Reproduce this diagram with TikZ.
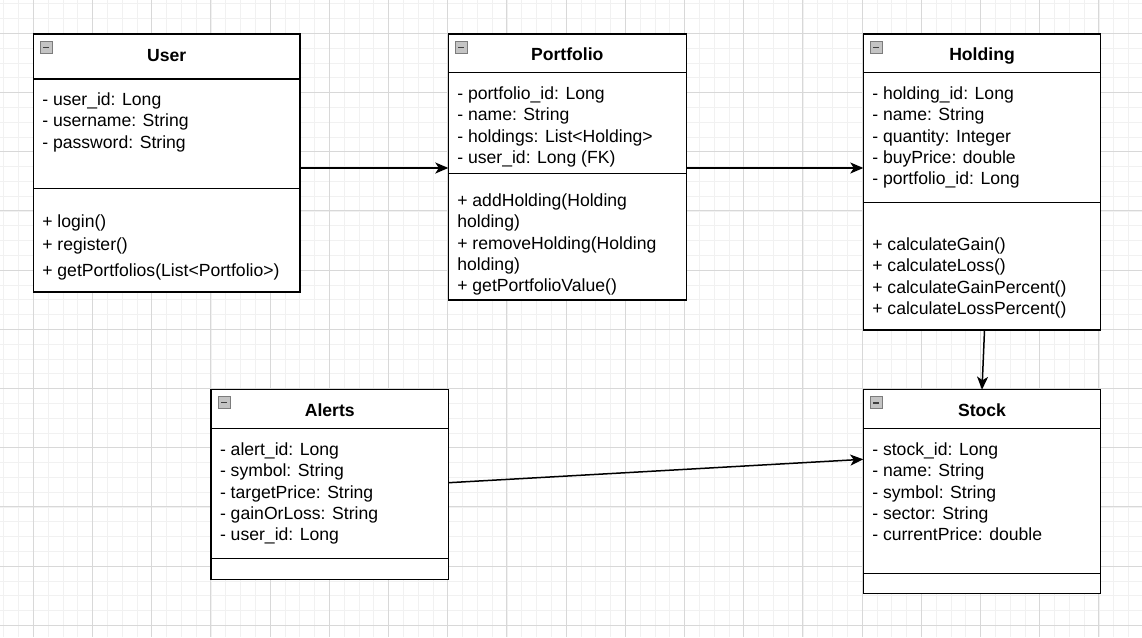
\documentclass[tikz,border=0pt]{standalone}
\usepackage{fontspec}
\setmainfont{Liberation Sans}
\usetikzlibrary{arrows.meta,calc}
\definecolor{gridminor}{HTML}{F1F1F1}
\definecolor{gridmajor}{HTML}{D8D8D8}
\definecolor{iconfill}{HTML}{C4C4C4}
\definecolor{iconline}{HTML}{7C7C7C}
\tikzset{
  cls/.style={draw=black, line width=1.5pt, fill=white, inner sep=0pt, outer sep=0pt, anchor=north west},
  txt/.style={inner sep=0pt, outer sep=0pt, anchor=base west, font=\fontsize{17.6}{21}\selectfont},
  ttl/.style={inner sep=0pt, outer sep=0pt, anchor=base, font=\fontsize{17.6}{21}\selectfont\bfseries},
  divider/.style={line width=1.5pt},
  arr/.style={line width=1.5pt, -{Stealth[length=13pt,width=11pt,inset=3.5pt]}},
  icon/.style={draw=iconline, fill=iconfill, line width=0.9pt, minimum width=12pt, minimum height=12pt, inner sep=0pt, outer sep=0pt, anchor=north west,
    path picture={\draw[line width=1.5pt, black!75] ([xshift=3pt]path picture bounding box.west) -- ([xshift=-3pt]path picture bounding box.east);}},
}
\begin{document}
\begin{tikzpicture}[x=1pt,y=-1pt]
\useasboundingbox (0,0) rectangle (1142,637);
\fill[white] (0,0) rectangle (1142,637);
% grid
\foreach \i in {0,...,77} {
  \draw[gridminor, line width=0.8pt] (3.7+14.8*\i,0) -- (3.7+14.8*\i,637);
}
\foreach \i in {0,...,43} {
  \draw[gridminor, line width=0.8pt] (0,3.7+14.8*\i) -- (1142,3.7+14.8*\i);
}
\foreach \i in {0,...,18} {
  \draw[gridmajor, line width=0.9pt] (33.3+59.2*\i,0) -- (33.3+59.2*\i,637);
}
\foreach \i in {0,...,10} {
  \draw[gridmajor, line width=0.9pt] (0,33.3+59.2*\i) -- (1142,33.3+59.2*\i);
}

% ---------- User ----------
\node[cls, minimum width=266.7pt, minimum height=258pt] (user) at (33.3,34) {};
\draw[divider] (user.west |- 0,79) -- (user.east |- 0,79);
\draw[divider] (user.west |- 0,188.3) -- (user.east |- 0,188.3);
\node[icon] (user-ic) at (40.3,41.5) {};
\node[ttl] (user-t) at (166.7,61.3) {User};
\foreach \t [count=\i from 0] in {- user\_id: Long, - username: String, - password: String} {
  \node[txt] (user-a\i) at (42.3,105.5+21.3*\i) {\t};
}
\node[txt] (user-m0) at (42.3,227.5) {+ login()};
\node[txt] (user-m1) at (42.3,250.8) {+ register()};
\node[txt] (user-m2) at (42.3,276.8) {+ getPortfolios(List<Portfolio>)};

% ---------- Portfolio ----------
\node[cls, minimum width=238pt, minimum height=266pt] (portfolio) at (448.3,34) {};
\draw[divider] (portfolio.west |- 0,72.7) -- (portfolio.east |- 0,72.7);
\draw[divider] (portfolio.west |- 0,173.3) -- (portfolio.east |- 0,173.3);
\node[icon] (portfolio-ic) at (455.3,41.3) {};
\node[ttl] (portfolio-t) at (567.3,60.5) {Portfolio};
\foreach \t [count=\i from 0] in {- portfolio\_id: Long, - name: String, - holdings: List<Holding>, - user\_id: Long (FK)} {
  \node[txt] (portfolio-a\i) at (457.3,99.5+21.3*\i) {\t};
}
\node[txt] (portfolio-m0) at (457.3,206.5) {+ addHolding(Holding};
\node[txt] (portfolio-m1) at (457.3,227.8) {holding)};
\node[txt] (portfolio-m2) at (457.3,249.1) {+ removeHolding(Holding};
\node[txt] (portfolio-m3) at (457.3,270.4) {holding)};
\node[txt] (portfolio-m4) at (457.3,291.7) {+ getPortfolioValue()};

% ---------- Holding ----------
\node[cls, minimum width=237.4pt, minimum height=296pt] (holding) at (863.3,34) {};
\draw[divider] (holding.west |- 0,72.7) -- (holding.east |- 0,72.7);
\draw[divider] (holding.west |- 0,202.7) -- (holding.east |- 0,202.7);
\node[icon] (holding-ic) at (870.3,41.3) {};
\node[ttl] (holding-t) at (982,60.5) {Holding};
\foreach \t [count=\i from 0] in {- holding\_id: Long, - name: String, - quantity: Integer, - buyPrice: double, - portfolio\_id: Long} {
  \node[txt] (holding-a\i) at (872.3,99.5+21.3*\i) {\t};
}
\foreach \t [count=\i from 0] in {+ calculateGain(), + calculateLoss(), + calculateGainPercent(), + calculateLossPercent()} {
  \node[txt] (holding-m\i) at (872.3,250.5+21.3*\i) {\t};
}

% ---------- Alerts ----------
\node[cls, minimum width=237.7pt, minimum height=189.6pt] (alerts) at (211,389.7) {};
\draw[divider] (alerts.west |- 0,428.3) -- (alerts.east |- 0,428.3);
\draw[divider] (alerts.west |- 0,558.7) -- (alerts.east |- 0,558.7);
\node[icon] (alerts-ic) at (218.3,396.7) {};
\node[ttl] (alerts-t) at (329.8,416.5) {Alerts};
\foreach \t [count=\i from 0] in {- alert\_id: Long, - symbol: String, - targetPrice: String, - gainOrLoss: String, - user\_id: Long} {
  \node[txt] (alerts-a\i) at (220,455.5+21.3*\i) {\t};
}

% ---------- Stock ----------
\node[cls, minimum width=237.4pt, minimum height=204pt] (stock) at (863.3,389.7) {};
\draw[divider] (stock.west |- 0,428.3) -- (stock.east |- 0,428.3);
\draw[divider] (stock.west |- 0,573.3) -- (stock.east |- 0,573.3);
\node[icon] (stock-ic) at (870.3,396.9) {};
\node[ttl] (stock-t) at (982,416.5) {Stock};
\foreach \t [count=\i from 0] in {- stock\_id: Long, - name: String, - symbol: String, - sector: String, - currentPrice: double} {
  \node[txt] (stock-a\i) at (872.3,455.5+21.3*\i) {\t};
}

% ---------- connectors ----------
\draw[arr] (user.east |- 0,168) -- (portfolio.west |- 0,168);
\draw[arr] (portfolio.east |- 0,168) -- (holding.west |- 0,168);
\draw[arr] ([xshift=2.5pt]holding.south) -- (stock.north);
\draw[arr] (alerts.east |- 0,482.7) -- (stock.west |- 0,459.3);
\end{tikzpicture}
\end{document}
